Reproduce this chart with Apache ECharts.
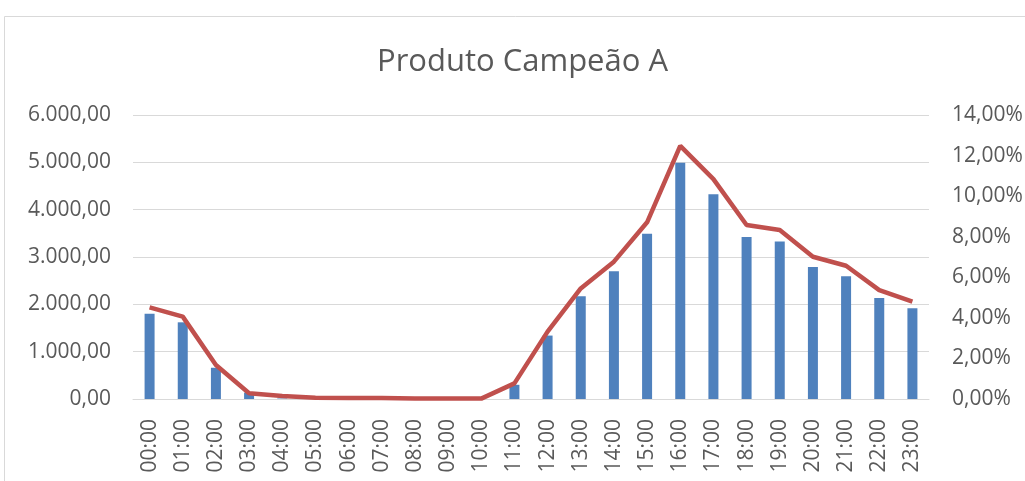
<!DOCTYPE html>
<html>
<head>
<meta charset="utf-8">
<script src="https://cdn.jsdelivr.net/npm/echarts@6/dist/echarts.min.js"></script>
<style>
  html, body { margin: 0; padding: 0; background: #fff; }
  #chart { width: 1025px; height: 481px; }
</style>
</head>
<body>
<div id="chart"></div>
<script>
// horas do dia
var hours = ['00:00', '01:00', '02:00', '03:00', '04:00', '05:00', '06:00', '07:00',
  '08:00', '09:00', '10:00', '11:00', '12:00', '13:00', '14:00', '15:00',
  '16:00', '17:00', '18:00', '19:00', '20:00', '21:00', '22:00', '23:00'];
// vendas (barras, eixo esquerdo)
var vendas = [1800, 1620, 660, 135, 10, 5, 5, 5, 0, 0, 0, 300, 1340, 2170, 2700, 3490,
  4990, 4325, 3425, 3325, 2790, 2595, 2135, 1915];
// participação (linha, eixo direito)
var participacao = [0.0452, 0.0406, 0.0168, 0.0028, 0.0015, 0.0006, 0.0005, 0.0005,
  0.0002, 0.0002, 0.0002, 0.0077, 0.0332, 0.0545, 0.0677, 0.0871,
  0.1248, 0.1084, 0.0858, 0.0833, 0.0701, 0.0657, 0.0537, 0.0480];

var textColor = '#595959';
var gridColor = '#d9d9d9';
var fontFamily = '"Open Sans", sans-serif';

function fmtNum(v) {
  var parts = v.toFixed(2).split('.');
  return parts[0].replace(/\B(?=(\d{3})+(?!\d))/g, '.') + ',' + parts[1];
}
function fmtPct(v) {
  return (v * 100).toFixed(2).replace('.', ',') + '%';
}

var myChart = echarts.init(document.getElementById('chart'));
var option = {
  animation: false,
  title: {
    text: 'Produto Campeão A',
    left: 372,
    top: 42,
    textStyle: { color: textColor, fontSize: 31, fontWeight: 'normal', fontFamily: fontFamily }
  },
  graphic: [{
    type: 'rect',
    shape: { x: 4.5, y: 16.5, width: 1100, height: 600 },
    style: { fill: 'none', stroke: gridColor, lineWidth: 1 },
    silent: true
  }],
  grid: {
    left: 133,
    right: 96,
    top: 115,
    bottom: 82,
    containLabel: false,
    outerBoundsMode: 'none'
  },
  xAxis: {
    type: 'category',
    data: hours,
    axisLine: { lineStyle: { color: gridColor, width: 1 } },
    axisTick: { show: false },
    axisLabel: {
      rotate: 90,
      margin: 20,
      interval: 0,
      color: textColor,
      fontSize: 21,
      fontFamily: fontFamily
    }
  },
  yAxis: [{
    type: 'value',
    min: 0,
    max: 6000,
    interval: 1000,
    axisLine: { show: false },
    axisTick: { show: false },
    axisLabel: {
      margin: 22,
      color: textColor,
      fontSize: 21,
      fontFamily: fontFamily,
      formatter: fmtNum
    },
    splitLine: { lineStyle: { color: gridColor, width: 1 } }
  }, {
    type: 'value',
    min: 0,
    max: 0.14,
    interval: 0.02,
    axisLine: { show: false },
    axisTick: { show: false },
    axisLabel: {
      margin: 23,
      color: textColor,
      fontSize: 21,
      fontFamily: fontFamily,
      formatter: fmtPct
    },
    splitLine: { show: false }
  }],
  series: [{
    name: 'Vendas',
    type: 'bar',
    data: vendas,
    barWidth: 10,
    itemStyle: { color: '#4F81BD' }
  }, {
    name: 'Participação',
    type: 'line',
    yAxisIndex: 1,
    data: participacao,
    showSymbol: false,
    symbol: 'none',
    lineStyle: { color: '#C0504D', width: 4.5 },
    z: 3
  }]
};
myChart.setOption(option);
</script>
</body>
</html>
